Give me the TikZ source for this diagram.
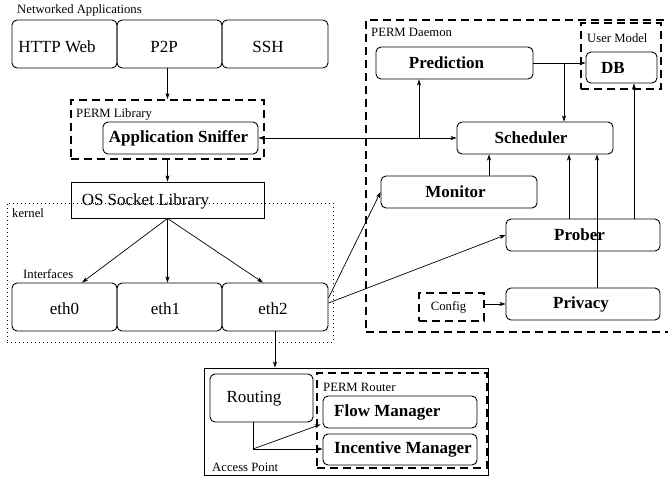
\documentclass[tikz,border=0pt]{standalone}
\usepackage{fontspec}
\setmainfont{Liberation Serif}
\usetikzlibrary{arrows.meta}
\begin{document}
\begin{tikzpicture}[x=1pt,y=-1pt,
  bigtxt/.style={font=\fontsize{17}{20}\selectfont},
  boldtxt/.style={font=\fontsize{17}{20}\selectfont\bfseries},
  smalltxt/.style={font=\fontsize{12.7}{15}\selectfont, inner sep=0pt},
  rbox/.style={draw, rounded corners=5pt, line width=0.9pt, inner sep=0pt},
  sbox/.style={draw, line width=0.9pt, inner sep=0pt},
  dbox/.style={draw, line width=1.8pt, dash pattern=on 8pt off 5pt, inner sep=0pt},
  kbox/.style={draw, line width=0.8pt, dash pattern=on 0.8pt off 3.2pt, inner sep=0pt},
  arr/.style={line width=0.7pt, -{Stealth[length=6pt,width=4pt,inset=1.5pt]}},
  arrb/.style={line width=0.7pt, {Stealth[length=6pt,width=4pt,inset=1.5pt]}-{Stealth[length=6pt,width=4pt,inset=1.5pt]}},
  ln/.style={line width=0.7pt},
]
\useasboundingbox (0,0) rectangle (668,479);
\clip (0,0) rectangle (668,479);

% ---------- applications ----------
\node[smalltxt, anchor=base west] (netapps) at (17,13.5) {Networked Applications};
\node[rbox, minimum width=105pt, minimum height=48pt,
  label={[bigtxt,xshift=-7.5pt,yshift=-3pt]center:HTTP Web}] (http) at (64.5,44) {};
\node[rbox, minimum width=105pt, minimum height=48pt,
  label={[bigtxt,xshift=-5.5pt,yshift=-3pt]center:P2P}] (p2p) at (169.5,44) {};
\node[rbox, minimum width=106pt, minimum height=48pt,
  label={[bigtxt,xshift=-7pt,yshift=-3pt]center:SSH}] (ssh) at (275,44) {};

% ---------- PERM library ----------
\node[dbox, minimum width=193pt, minimum height=59pt] (permlib) at (167.5,129.5) {};
\node[smalltxt, anchor=base west] (permlibl) at (76,117) {PERM Library};
\node[rbox, minimum width=155pt, minimum height=32pt,
  label={[boldtxt,xshift=-2pt]center:Application Sniffer}] (sniffer) at (180.5,138) {};

% ---------- OS and kernel ----------
\node[sbox, minimum width=193pt, minimum height=36pt,
  label={[bigtxt,xshift=-22pt,yshift=-1pt]center:OS Socket Library}] (os) at (167.5,200) {};
\node[kbox, minimum width=326pt, minimum height=139pt] (kernel) at (170,272.5) {};
\node[smalltxt, anchor=base west] (kernell) at (12,217) {kernel};
\node[smalltxt, anchor=base west] (ifl) at (23,278) {Interfaces};
\node[rbox, minimum width=105pt, minimum height=48pt,
  label={[bigtxt,yshift=-2pt]center:eth0}] (eth0) at (64.5,307) {};
\node[rbox, minimum width=105pt, minimum height=48pt,
  label={[bigtxt,xshift=-4pt,yshift=-2pt]center:eth1}] (eth1) at (169.5,307) {};
\node[rbox, minimum width=106pt, minimum height=48pt,
  label={[bigtxt,xshift=-2pt,yshift=-2pt]center:eth2}] (eth2) at (275,307) {};

% ---------- access point ----------
\node[sbox, minimum width=284pt, minimum height=107pt] (ap) at (346,421.5) {};
\node[smalltxt, anchor=base west] (apl) at (212,471) {Access Point};
\node[rbox, minimum width=103pt, minimum height=48pt,
  label={[bigtxt,xshift=-7.5pt,yshift=-1pt]center:Routing}] (routing) at (261.5,398) {};
\node[dbox, minimum width=170pt, minimum height=95pt] (permrouter) at (402,420.5) {};
\node[smalltxt, anchor=base west] (permrouterl) at (323,391) {PERM Router};
\node[rbox, minimum width=154pt, minimum height=32pt] (flow) at (400,412) {};
\node[boldtxt, anchor=west, inner sep=0pt] (flowt) at (334,412) {Flow Manager};
\node[rbox, minimum width=154pt, minimum height=31pt] (incentive) at (400,449.5) {};
\node[boldtxt, anchor=west, inner sep=0pt] (incentivet) at (334,449.5) {Incentive Manager};

% ---------- PERM daemon ----------
\node[dbox, minimum width=305pt, minimum height=312pt] (daemon) at (518.5,176) {};
\node[smalltxt, anchor=base west] (daemonl) at (371,36) {PERM Daemon};
\node[dbox, minimum width=80pt, minimum height=66pt] (usermodel) at (621,56) {};
\node[smalltxt, anchor=base west] (usermodell) at (587,42) {User Model};
\node[rbox, minimum width=71pt, minimum height=31pt,
  label={[boldtxt,xshift=-8.5pt]center:DB}] (db) at (621.5,67.5) {};
\node[rbox, minimum width=157pt, minimum height=32pt,
  label={[boldtxt,xshift=-8pt]center:Prediction}] (prediction) at (454.5,63) {};
\node[rbox, minimum width=156pt, minimum height=32pt,
  label={[boldtxt,xshift=-4pt]center:Scheduler}] (scheduler) at (535,138) {};
\node[rbox, minimum width=156pt, minimum height=32pt,
  label={[boldtxt,xshift=-3.5pt]center:Monitor}] (monitor) at (459,192) {};
\node[rbox, minimum width=154pt, minimum height=32pt,
  label={[boldtxt,xshift=-3.5pt]center:Prober}] (prober) at (583,235) {};
\node[rbox, minimum width=154pt, minimum height=32pt,
  label={[boldtxt,xshift=-2pt]center:Privacy}] (privacy) at (583,304) {};
\node[dbox, minimum width=65pt, minimum height=28pt,
  label={[smalltxt,xshift=-3pt]center:Config}] (config) at (451.5,307) {};

% ---------- connectors ----------
\draw[arr] (permlib.north |- p2p.south) -- (permlib.north);
\draw[arr] (permlib.south) -- (os.north);
\draw[arr] (os.south) -- ([xshift=17.5pt]eth0.north);
\draw[arr] (os.south) -- (os.south |- eth1.north);
\draw[arr] (os.south) -- ([xshift=-12pt]eth2.north);
\draw[arr] (eth2.south) -- (eth2.south |- ap.north);
\draw[arr] ([yshift=9pt]eth2.east) -- (monitor.west);
\draw[arr] ([yshift=4pt]eth2.east) -- (prober.west);

\draw[arrb] (sniffer.east) -- (scheduler.west);
\coordinate (j1) at (419,138);
\draw[arr] (j1) -- (j1 |- prediction.south);
\draw[arr] (prediction.east) -- (prediction.east -| db.west);
\coordinate (j2) at (564,63);
\draw[arr] (j2) -- (j2 |- scheduler.north);
\draw[arr] ([xshift=30pt]monitor.north) -- ([xshift=30pt]monitor.north |- scheduler.south);
\draw[arr] ([xshift=-14pt]prober.north) -- ([xshift=-14pt]prober.north |- scheduler.south);
\draw[arr] ([xshift=14pt]privacy.north) -- ([xshift=14pt]privacy.north |- scheduler.south);
\draw[arr] ([xshift=51pt]prober.north) -- ([xshift=51pt]prober.north |- db.south);
\draw[arr] (privacy.west -| config.east) -- (privacy.west);

\coordinate (j3) at (253,449);
\draw[ln] ([xshift=-8.5pt]routing.south) -- (j3);
\draw[arr] (j3) -- ([xshift=-2pt,yshift=4pt]flow.south west);
\draw[arr] (j3) -- (j3 -| incentive.west);
\end{tikzpicture}
\end{document}
